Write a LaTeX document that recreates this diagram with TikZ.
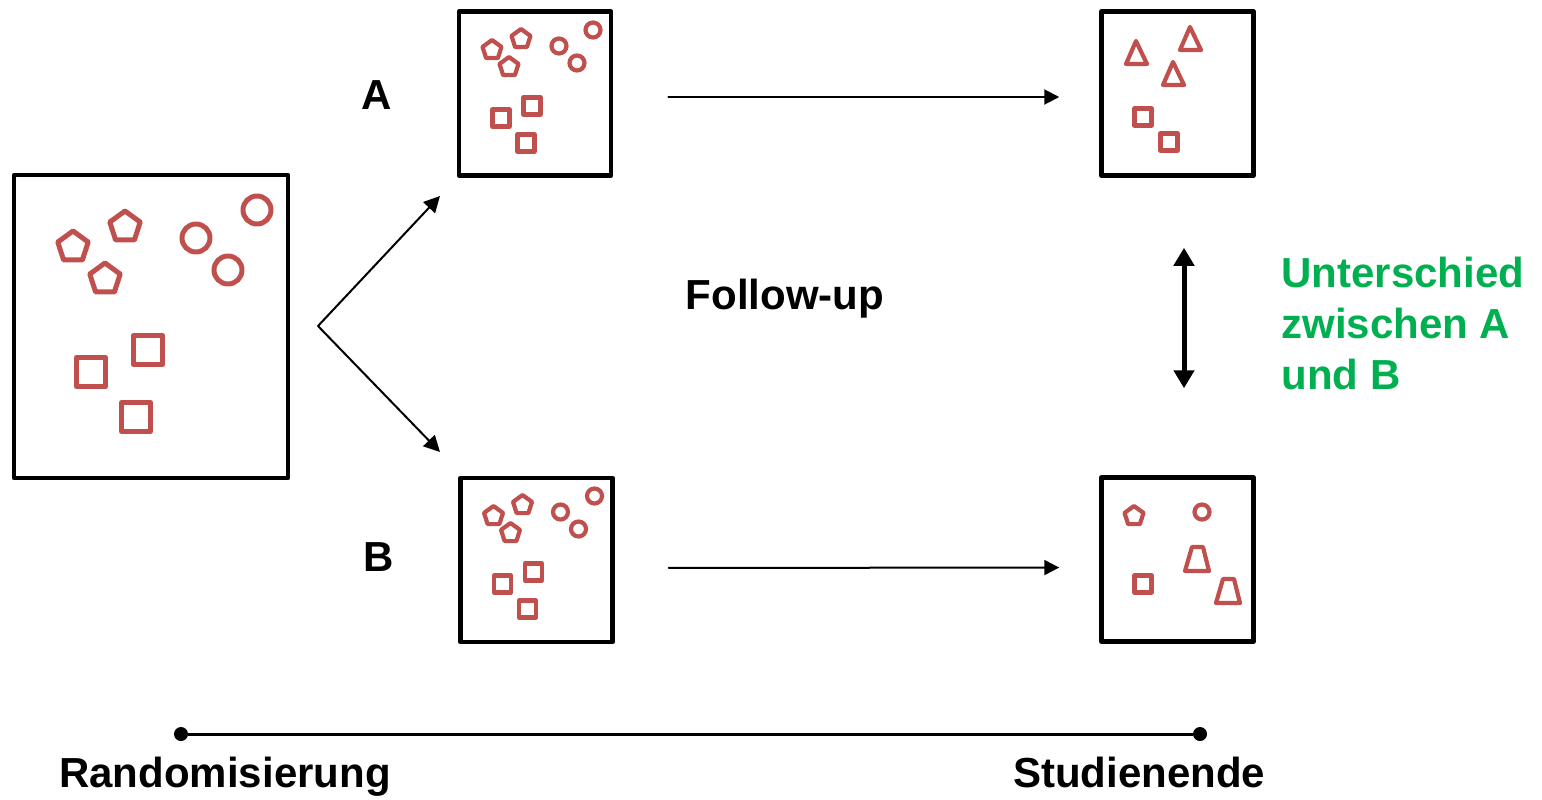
\documentclass[tikz,border=0pt]{standalone}
\usepackage{fontspec}
\setmainfont{Liberation Sans}
\usetikzlibrary{arrows.meta}
\usetikzlibrary{positioning}
\definecolor{figred}{RGB}{192,80,77}
\definecolor{diffgreen}{RGB}{0,176,80}
\newcommand{\pent}[3]{\draw[shift={(#1,#2)}] (-90:#3)--(-18:#3)--(54:#3)--(126:#3)--(198:#3)--cycle;}
\newcommand{\sqr}[3]{\draw (#1-#3/2,#2-#3/2) rectangle ++(#3,#3);}
\newcommand{\ring}[3]{\draw (#1,#2) circle [radius=#3pt];}

\begin{document}
\begin{tikzpicture}[line cap=round,line join=round,>={Triangle[length=8pt,width=8pt]},x=0.5pt,y=-0.5pt,
  box/.style={draw,line width=2.25pt,minimum width=76pt,minimum height=82pt,inner sep=0pt},
  lbl/.style={font=\fontsize{21}{25.5}\selectfont\bfseries,inner sep=0pt},
  dot/.style={circle,fill,inner sep=0pt,minimum size=7pt}]
\useasboundingbox (0,0) rectangle (1542,799);
\node [box,minimum width=137pt,minimum height=151.5pt] (pool) at (151,326.5) {};
\node [box] (groupA) at (535,93.5) {};
\node [box] (groupB) at (536.5,560) {};
\node [box] (endA) at (1177.5,93.5) {};
\node [box] (endB) at (1177.5,559.5) {};
\begin{scope}[color=figred,line width=2.5pt]
\pent{73}{247}{16} \pent{125}{227}{16} \pent{105}{279}{16}
\ring{196}{238}{7} \ring{228}{270}{7} \ring{257}{210}{7}
\sqr{148}{350}{29} \sqr{91}{372}{29} \sqr{136}{417}{29}
\end{scope}
\begin{scope}[color=figred,line width=2.1pt]
\foreach \dx/\dy in {0/0,1.5/466} {
  \begin{scope}[shift={(\dx,\dy)}]
  \pent{492}{50}{10} \pent{521}{39}{10} \pent{509}{67}{10}
  \ring{559}{46}{3.75} \ring{593}{30}{3.75} \ring{577}{63}{3.75}
  \sqr{532}{106}{17} \sqr{501}{118}{17} \sqr{526}{143}{17}
  \end{scope}
}
\draw (1136,41)--(1147,64)--(1126,64)--cycle;
\draw (1190,27)--(1201,50)--(1180,50)--cycle;
\draw (1173,62)--(1184,85)--(1163,85)--cycle;
\sqr{1143}{117}{17} \sqr{1169}{142}{17}
\pent{1134}{516}{10}
\ring{1202}{512}{3.75}
\sqr{1143}{584}{17}
\draw (1192,547)--(1203,547)--(1209,571)--(1185,571)--cycle;
\draw (1223,579)--(1234,579)--(1240,603)--(1216,603)--cycle;
\end{scope}
\coordinate (split) at (318,326);
\coordinate (tipA) at (440,196);
\coordinate (tipB) at (440,452);
\draw [->,line width=1pt] (split)--(tipA);
\draw [->,line width=1pt] (split)--(tipB);
\draw [-{Triangle[length=7.5pt,width=7.5pt]},line width=1pt,shorten <=27.5pt,shorten >=20pt] ([yshift=-1.75pt]groupA.east)--([yshift=-1.75pt]endA.west);
\draw [-{Triangle[length=7.5pt,width=7.5pt]},line width=1pt,shorten <=27pt,shorten >=20pt] ([yshift=-4pt]groupB.east)--([yshift=-4pt]endB.west);
\draw [{Triangle[length=9pt,width=10pt]}-{Triangle[length=9pt,width=10pt]},line width=2.5pt] ([xshift=3.25pt,yshift=-35pt]endA.south)--([xshift=3.25pt,yshift=43.5pt]endB.north);
\node [lbl,anchor=base] (labA) at (377,109) {A};
\node [lbl,anchor=base] (labB) at (379,571) {B};
\node [lbl,anchor=base] (follow) at (785,309) {Follow-up};
\node [lbl,text=diffgreen,align=left,anchor=north west] (diff) at (1281,257) {Unterschied\\zwischen A\\und B};
\node [dot] (start) at (181,734) {};
\node [dot] (finish) at (1200,734) {};
\draw [line width=1.5pt] (start)--(finish);
\node [lbl,anchor=base] (startlbl) at (225,787) {Randomisierung};
\node [lbl,anchor=base] (finishlbl) at (1139,787) {Studienende};
%\draw [red] (0,0) rectangle (1542,799);
\end{tikzpicture}
\end{document}
